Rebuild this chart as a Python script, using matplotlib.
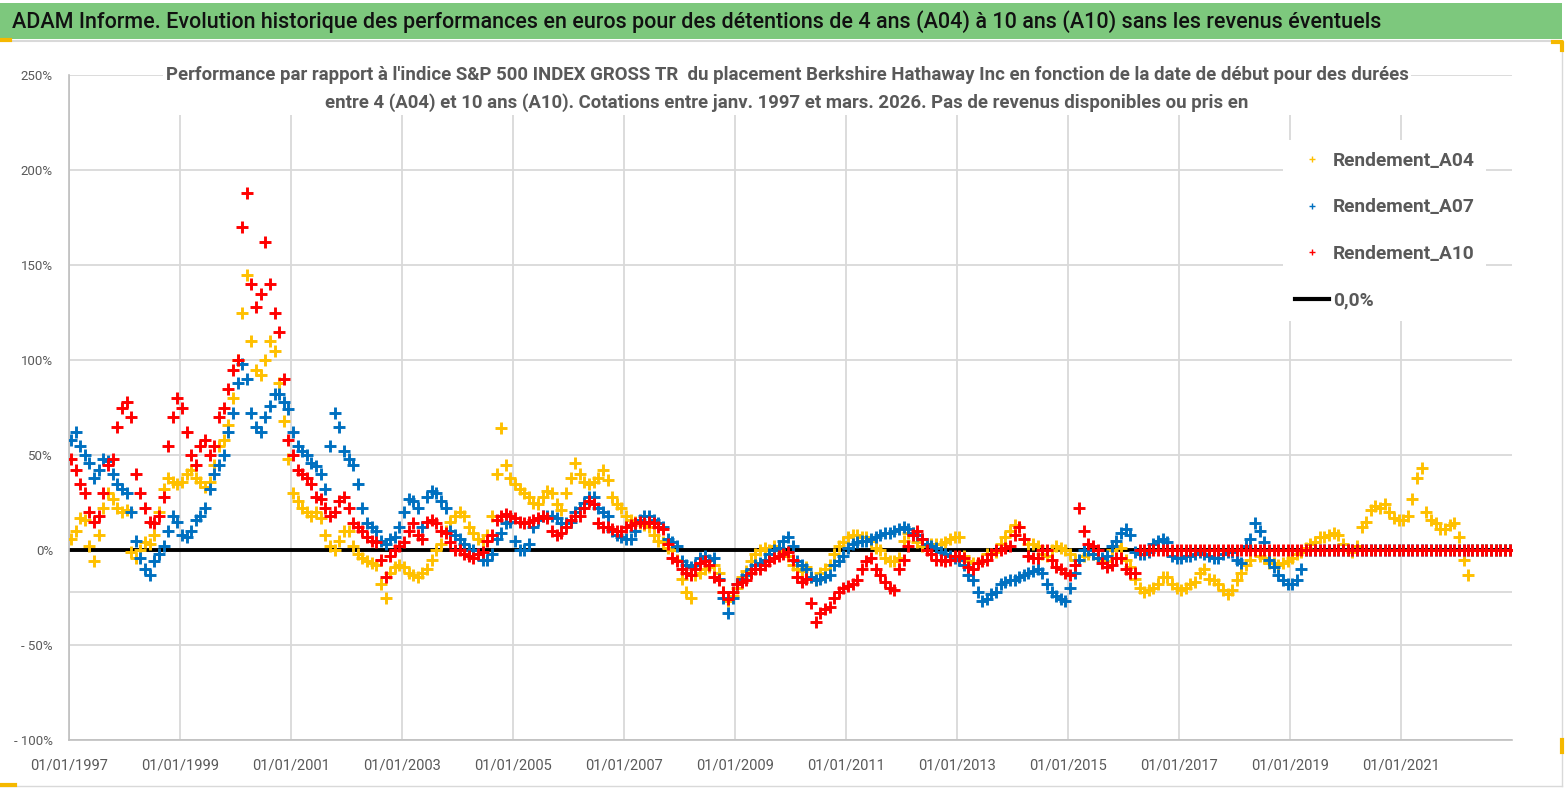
import matplotlib
matplotlib.use("Agg")
import matplotlib.pyplot as plt
from matplotlib import font_manager
from matplotlib.lines import Line2D
from matplotlib.patches import Rectangle
import pandas as pd

# Monthly relative performance (%), first value = Jan 1997
a04 = [
    6, 10, 17, 16, 2, -6, 8, 22, 30, 27, 22, 20,            # 1997
    21, -1, -4, 0, 4, 3, 8, 20, 32, 38, 36, 35,             # 1998
    36, 40, 42, 38, 36, 33, 36, 45, 55, 58, 66, 80,         # 1999
    100, 125, 145, 110, 95, 92, 100, 110, 105, 88, 68, 48,  # 2000
    30, 26, 22, 20, 18, 20, 17, 8, 2, 0, 5, 10,             # 2001
    10, 2, -2, -4, -6, -7, -8, -18, -25, -12, -9, -8,       # 2002
    -9, -12, -13, -14, -12, -10, -5, 0, 3, 10, 15, 18,      # 2003
    20, 18, 12, 9, 6, 5, 8, 18, 40, 64, 45, 38,             # 2004
    35, 32, 30, 28, 25, 24, 28, 31, 30, 24, 21, 30,         # 2005
    38, 46, 40, 36, 35, 36, 38, 42, 37, 28, 24, 22,         # 2006
    18, 16, 15, 14, 13, 12, 8, 5, 4, 1, 0, -5,              # 2007
    -15, -22, -25, -13, -12, -10, -9, -8, -12, -22, -27, -24,  # 2008
    -20, -14, -11, -6, -2, 0, 1, 0, 2, 0, -1, -3,           # 2009
    -8, -10, -11, -9, -14, -16, -12, -10, -8, -2, 2, 4,     # 2010
    7, 8, 8, 7, 7, 5, 1, 0, -4, -6, -6, -4,                 # 2011
    5, 9, 9, 4, 2, 2, 3, 3, 3, 4, 6, 7,                     # 2012
    7, -3, -6, -7, -7, -5, -2, -2, -1, 3, 7, 10,            # 2013
    13, 12, 6, 3, 3, 2, -2, -3, 0, 2, 1, 0,                 # 2014
    -2, -5, -5, -3, -2, -2, -4, -5, -6, 0, 2, 1,            # 2015
    -5, -9, -15, -20, -22, -21, -20, -18, -14, -14, -18, -20,  # 2016
    -21, -20, -18, -17, -12, -10, -15, -16, -18, -21, -23, -21,  # 2017
    -16, -12, -8, -5, 0, -3, -4, -7, -7, -8, -7, -6,        # 2018
    -4, -2, -1, 1, 3, 4, 7, 7, 8, 9, 8, 3,                  # 2019
    0, -1, 2, 12, 15, 21, 23, 22, 24, 20, 17, 16,           # 2020
    16, 18, 27, 38, 43, 20, 16, 14, 11, 11, 13, 14,         # 2021
    7, -5, -13,                                             # 2022
]
a07 = [
    58, 62, 55, 50, 46, 38, 42, 48, 47, 40, 35, 32,
    30, 20, 5, -4, -10, -13, -6, -2, 2, 10, 18, 15,
    8, 7, 10, 16, 18, 22, 32, 40, 45, 50, 62, 72,
    88, 98, 90, 72, 65, 62, 70, 76, 82, 82, 78, 74,
    62, 55, 52, 50, 46, 44, 40, 32, 55, 72, 65, 52,
    48, 45, 35, 22, 14, 12, 10, 5, 3, 6, 7, 12,
    20, 27, 26, 22, 12, 28, 31, 30, 26, 22, 10, 8,
    6, 3, 0, 0, -2, -5, -5, -2, 6, 9, 14, 15,
    5, 0, 0, 3, 12, 16, 18, 18, 18, 17, 14, 14,
    15, 20, 22, 25, 28, 28, 22, 20, 18, 10, 8, 7,
    6, 6, 10, 16, 18, 18, 16, 14, 12, 6, 4, 2,
    -6, -8, -9, -8, -4, -3, -5, -4, -15, -25, -33, -25,
    -18, -15, -13, -10, -8, -7, -5, -2, 0, 1, 5, 7,
    2, -6, -8, -10, -14, -16, -15, -14, -13, -8, -6, -3,
    1, 3, 4, 5, 5, 6, 7, 8, 9, 9, 10, 11,
    12, 11, 9, 8, 6, 3, 2, 1, -1, -2, -3, -4,
    -5, -8, -13, -16, -22, -27, -26, -23, -22, -18, -17, -16,
    -16, -14, -13, -12, -11, -10, -12, -18, -22, -24, -26, -27,
    -20, -12, -5, 0, 0, -2, -4, -4, -3, 2, 5, 9,
    11, 8, -1, -2, -2, -1, 3, 5, 6, 4, -3, -4,
    -4, -3, -3, -2, -1, -2, -3, -4, -4, -2, -1, -1,
    -5, -7, 2, 6, 14, 10, 4, -5, -9, -13, -16, -18,
    -18, -16, -10,
]
a10 = [
    48, 42, 35, 30, 20, 15, 18, 30, 45, 48, 65, 75,
    78, 70, 40, 30, 22, 15, 14, 18, 28, 55, 70, 80,
    75, 62, 50, 45, 55, 58, 50, 55, 70, 75, 85, 95,
    100, 170, 188, 140, 128, 135, 162, 140, 125, 115, 90, 58,
    50, 42, 40, 38, 35, 28, 27, 22, 18, 20, 26, 28,
    22, 14, 12, 10, 7, 5, 4, -5, -14, -3, 0, 2,
    4, 10, 14, 8, 6, 15, 16, 14, 10, 9, 4, 0,
    0, -2, -3, -4, -2, -1, 5, 8, 16, 18, 19, 18,
    17, 15, 14, 15, 16, 17, 18, 17, 10, 8, 9, 12,
    16, 18, 18, 22, 26, 24, 14, 12, 12, 11, 10, 10,
    12, 13, 14, 15, 14, 15, 14, 12, 11, 3, -4, -6,
    -10, -12, -13, -10, -7, -6, -8, -14, -16, -22, -26, -22,
    -18, -17, -16, -12, -10, -10, -8, -6, -4, -3, -2, -1,
    -5, -14, -17, -15, -28, -38, -33, -31, -30, -25, -22, -20,
    -19, -18, -16, -10, -6, -4, -10, -13, -17, -20, -21, -10,
    -5, 2, 8, 10, 6, 0, -2, -5, -5, -6, -5, -3,
    -3, -4, -9, -10, -7, -6, -5, -2, 0, 0, 1, 2,
    8, 12, 6, -3, -4, -4, 0, 0, -5, -9, -10, -12,
    -13, -8, 22, 10, 3, 2, 0, -7, -9, -8, -4, -4,
    -10, -12, -12,
]
series_names = ["Rendement_A04", "Rendement_A07", "Rendement_A10"]
series_colors = ["#FFC000", "#0070C0", "#FF0000"]
ref_level = -22.0  # grey horizontal line below zero
tick_years = list(range(1997, 2022, 2))

title = ("ADAM Informe. Evolution historique des performances en euros pour des "
         "détentions de 4 ans (A04) à 10 ans (A10) sans les revenus éventuels")
subtitle = ("Performance par rapport à l'indice S&P 500 INDEX GROSS TR  du placement "
            "Berkshire Hathaway Inc en fonction de la date de début pour des durées\n"
            "entre 4 (A04) et 10 ans (A10). Cotations entre janv. 1997 et mars. 2026. "
            "Pas de revenus disponibles ou pris en")

available = {f.name for f in font_manager.fontManager.ttflist}
main_font = "Liberation Sans Narrow" if "Liberation Sans Narrow" in available else "Roboto"
plt.rcParams["font.family"] = [main_font, "DejaVu Sans"]

months = pd.date_range("1997-01-01", "2022-12-01", freq="MS") + pd.Timedelta(days=14)
n = len(months)

W, H = 1567, 790
fig = plt.figure(figsize=(W / 100, H / 100), dpi=100)
ax = fig.add_axes([69 / W, 50 / H, (1512 - 69) / W, (740 - 75) / H])

grid_c = "#D9D9D9"
txt_c = "#595959"

ax.axhline(0, color="black", lw=2.8, zorder=2)
ax.axhline(ref_level, color=grid_c, lw=1.3, zorder=1)

for vals, name, col in zip([a04, a07, a10], series_names, series_colors):
    full = vals + [0.0] * (n - len(vals))
    ax.plot(months, full, linestyle="none", marker="+", ms=8, mew=2.1,
            color=col, zorder=3)

ax.set_ylim(-100, 250)
ax.set_yticks(range(-100, 251, 50))
ax.set_yticklabels([f"{v}%" if v >= 0 else f"- {abs(v)}%" for v in range(-100, 251, 50)])
ax.set_xlim(pd.Timestamp("1997-01-01"), pd.Timestamp("2022-12-31"))
xt = [pd.Timestamp(f"{y}-01-01") for y in tick_years]
ax.set_xticks(xt)
ax.set_xticklabels([t.strftime("%d/%m/%Y") for t in xt])
ax.tick_params(axis="y", length=0, pad=11.5, labelsize=9.5, labelcolor=txt_c)
ax.tick_params(axis="x", length=0, pad=13, labelsize=10.5, labelcolor=txt_c)
ax.grid(True, color=grid_c, lw=1.3, zorder=0)
ax.set_axisbelow(True)
for s in ["top", "right"]:
    ax.spines[s].set_visible(False)
for s in ["left", "bottom"]:
    ax.spines[s].set_color("#BFBFBF")
    ax.spines[s].set_linewidth(1.2)

# header band
fig.patches.append(Rectangle((0, 1 - 39 / H), 1562 / W, 36 / H, transform=fig.transFigure,
                             facecolor="#7DC87D", edgecolor="none", zorder=0))
fig.add_artist(Line2D([0, 1562 / W], [1 - 41 / H, 1 - 41 / H], color="#D9D9D9", lw=1.5))
fig.add_artist(Line2D([1562 / W, 1562 / W], [1 - 786 / H, 1 - 41 / H], color="#D9D9D9", lw=1))
fig.add_artist(Line2D([0, 1562 / W], [1 - 786 / H, 1 - 786 / H], color="#D9D9D9", lw=1))
for xs, ys in [([0, 10], [40, 40]), ([1553, 1562, 1562], [42, 42, 50]),
               ([1562, 1562], [740, 752]), ([0, 15], [785, 785])]:
    fig.add_artist(Line2D([x / W for x in xs], [1 - y / H for y in ys],
                          color="#F5B800", lw=3))

fig.text(12 / W, 1 - 22 / H, title, fontsize=15.5, color="#111111", va="center",
         ha="left", fontweight="medium")
fig.text(787 / W, 1 - 89 / H, subtitle, fontsize=13.4, color=txt_c, fontweight="bold",
         ha="center", va="center", linespacing=1.6,
         bbox=dict(facecolor="white", edgecolor="none", pad=2))

handles = [Line2D([], [], linestyle="none", marker="+", ms=5, mew=1, color=c)
           for c in series_colors]
handles.append(Line2D([], [], color="black", lw=3))
leg = fig.legend(handles, series_names + ["0,0%"], loc="upper left",
                 bbox_to_anchor=(1283 / W, 1 - 140 / H), frameon=True, fancybox=False,
                 facecolor="white", edgecolor="none", framealpha=1,
                 prop={"size": 13.8, "weight": "bold"}, labelcolor=txt_c,
                 handlelength=1.8, handletextpad=0.2, labelspacing=1.5,
                 borderpad=0.6, borderaxespad=0)
leg.set_zorder(5)

fig.savefig("out.png", dpi=100)
